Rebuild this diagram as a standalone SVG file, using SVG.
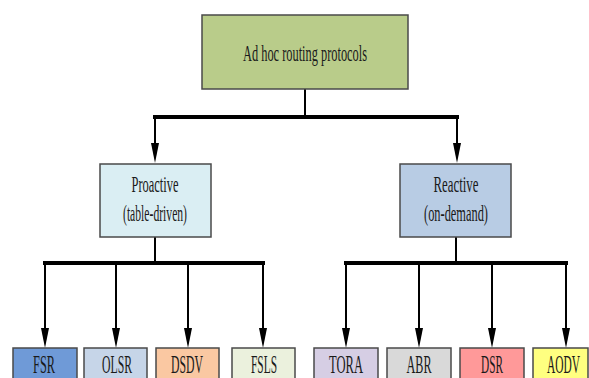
<svg xmlns="http://www.w3.org/2000/svg" width="589" height="378" viewBox="0 0 589 378">
<defs>
<style>
.box{stroke:#4a4a4a;stroke-width:1.5}
.t{font-family:"Liberation Serif","Times New Roman",serif;fill:#1a1a1a;text-anchor:middle}
.b{font-size:25px}
.v{stroke:#000;stroke-width:2;fill:none}
.h{stroke:#000;stroke-width:4;fill:none}
</style>
<marker id="ah" markerUnits="userSpaceOnUse" markerWidth="20" markerHeight="8" refX="0" refY="4" orient="auto" overflow="visible">
<path d="M0,0 L20,4 L0,8 z" fill="#000"/>
</marker>
</defs>
<rect width="589" height="378" fill="#fff"/>
<g id="connectors">
<path class="v" d="M305,89 V117"/>
<path class="h" d="M153,117 H459"/>
<path class="v" d="M155,117 V143" marker-end="url(#ah)"/>
<path class="v" d="M457,117 V143" marker-end="url(#ah)"/>
<path class="v" d="M155,237 V263"/>
<path class="v" d="M456,237 V263"/>
<path class="h" d="M43,263 H265"/>
<path class="h" d="M344,263 H568"/>
<path class="v" d="M45,263 V328" marker-end="url(#ah)"/>
<path class="v" d="M116,263 V328" marker-end="url(#ah)"/>
<path class="v" d="M188,263 V328" marker-end="url(#ah)"/>
<path class="v" d="M263,263 V328" marker-end="url(#ah)"/>
<path class="v" d="M346,263 V328" marker-end="url(#ah)"/>
<path class="v" d="M419,263 V328" marker-end="url(#ah)"/>
<path class="v" d="M492,263 V328" marker-end="url(#ah)"/>
<path class="v" d="M566,263 V328" marker-end="url(#ah)"/>
</g>
<g id="root">
<rect class="box" x="202" y="15" width="206" height="74" fill="#b9cc8a"/>
<text class="t" x="305" y="61" font-size="24" textLength="124" lengthAdjust="spacingAndGlyphs">Ad hoc routing protocols</text>
</g>
<g id="proactive">
<rect class="box" x="100" y="164" width="111" height="73" fill="#daeef3"/>
<text class="t" x="155" y="192" font-size="24" textLength="47" lengthAdjust="spacingAndGlyphs">Proactive</text>
<text class="t" x="155" y="221" font-size="24" textLength="64" lengthAdjust="spacingAndGlyphs">(table-driven)</text>
</g>
<g id="reactive">
<rect class="box" x="400" y="164" width="111" height="73" fill="#b8cce4"/>
<text class="t" x="456" y="192" font-size="24" textLength="45" lengthAdjust="spacingAndGlyphs">Reactive</text>
<text class="t" x="456" y="221" font-size="24" textLength="64" lengthAdjust="spacingAndGlyphs">(on-demand)</text>
</g>
<g id="fsr">
<rect class="box" x="13" y="348" width="64" height="40" fill="#6f9ad7"/>
<text class="t b" x="44" y="373" textLength="22" lengthAdjust="spacingAndGlyphs">FSR</text>
</g>
<g id="olsr">
<rect class="box" x="84" y="348" width="63" height="40" fill="#c6d5e8"/>
<text class="t b" x="117" y="373" textLength="30" lengthAdjust="spacingAndGlyphs">OLSR</text>
</g>
<g id="dsdv">
<rect class="box" x="156" y="348" width="63" height="40" fill="#fac8a2"/>
<text class="t b" x="187" y="373" textLength="32" lengthAdjust="spacingAndGlyphs">DSDV</text>
</g>
<g id="fsls">
<rect class="box" x="232" y="348" width="63" height="40" fill="#ebf1dd"/>
<text class="t b" x="264" y="373" textLength="26" lengthAdjust="spacingAndGlyphs">FSLS</text>
</g>
<g id="tora">
<rect class="box" x="314" y="348" width="64" height="40" fill="#d6cee4"/>
<text class="t b" x="346" y="373" textLength="34" lengthAdjust="spacingAndGlyphs">TORA</text>
</g>
<g id="abr">
<rect class="box" x="387" y="348" width="64" height="40" fill="#d9d9d9"/>
<text class="t b" x="419" y="373" textLength="25" lengthAdjust="spacingAndGlyphs">ABR</text>
</g>
<g id="dsr">
<rect class="box" x="460" y="348" width="64" height="40" fill="#ff9999"/>
<text class="t b" x="492" y="373" textLength="22" lengthAdjust="spacingAndGlyphs">DSR</text>
</g>
<g id="aodv">
<rect class="box" x="533" y="348" width="55" height="40" fill="#ffff80"/>
<text class="t b" x="580" y="373" text-anchor="end" style="text-anchor:end" textLength="33" lengthAdjust="spacingAndGlyphs">AODV</text>
</g>
</svg>
